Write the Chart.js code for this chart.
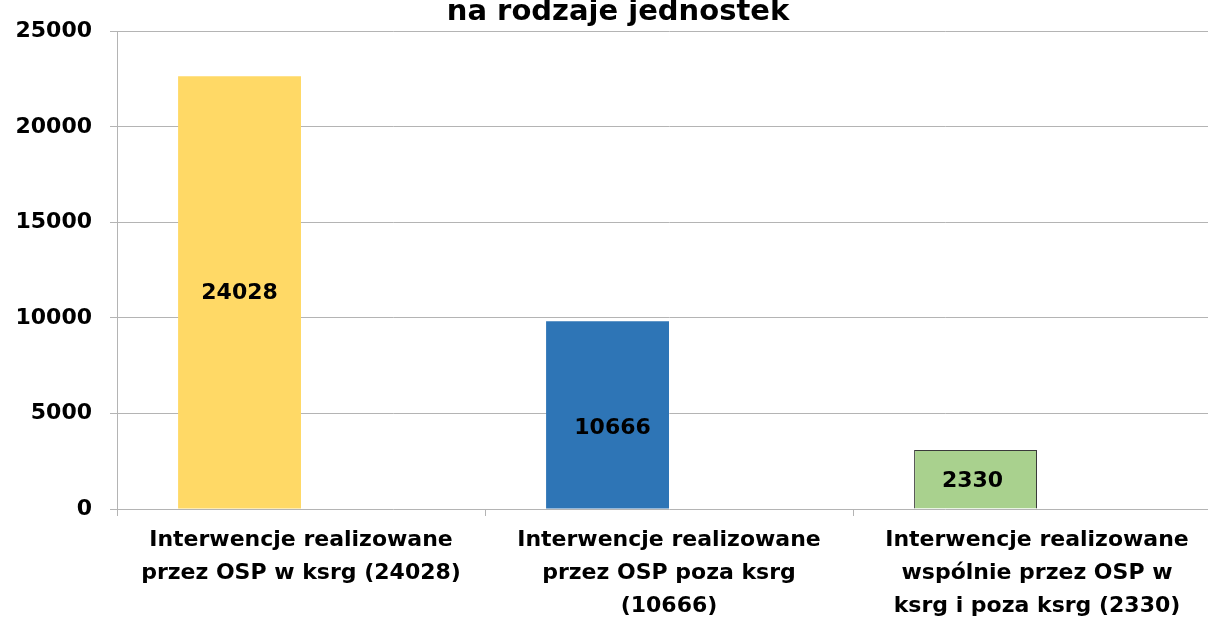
<!DOCTYPE html>
<html>
<head>
<meta charset="utf-8">
<script src="https://cdn.jsdelivr.net/npm/chart.js@4/dist/chart.umd.min.js"></script>
<style>
html,body{margin:0;padding:0;background:#fff;overflow:hidden;width:1208px;height:622px;}
#wrap{position:absolute;left:0;top:-20px;width:1232px;height:650px;}
</style>
</head>
<body>
<div id="wrap"><canvas id="c" width="1232" height="650"></canvas></div>
<script>
const titleText = 'na rodzaje jednostek';
const categories = [
  ['Interwencje realizowane', 'przez OSP w ksrg (24028)'],
  ['Interwencje realizowane', 'przez OSP poza ksrg', '(10666)'],
  ['Interwencje realizowane', 'wspólnie przez OSP w', 'ksrg i poza ksrg (2330)']
];
const barValues = [22650, 9820, 3090];
const barLabels = ['24028', '10666', '2330'];
const emptySeries = [null, null, null];
const yTicks = [0, 5000, 10000, 15000, 20000, 25000];

const barColors = ['#FFD966', '#2E75B6', '#A9D18E'];
const barBorders = ['#FFD966', '#2E75B6', '#3A3A3A'];
const barBorderWidths = [0, 0, 1];
const gridColor = '#B4B4B4';

// manual nudges of the data labels (pixels), as placed in the original chart
const labelNudges = [[0, 1], [5, 13], [-3, 2]];

const valueLabels = {
  id: 'valueLabels',
  afterDatasetsDraw(chart) {
    const ctx = chart.ctx;
    const meta = chart.getDatasetMeta(0);
    ctx.save();
    ctx.font = 'bold 22px "DejaVu Sans"';
    ctx.fillStyle = '#000';
    ctx.textAlign = 'center';
    ctx.textBaseline = 'middle';
    meta.data.forEach((bar, i) => {
      const p = bar.getProps(['x', 'y', 'base'], true);
      const n = labelNudges[i] || [0, 0];
      ctx.fillText(barLabels[i], p.x + n[0], (p.y + p.base) / 2 + n[1]);
    });
    ctx.restore();
  }
};

new Chart(document.getElementById('c'), {
  type: 'bar',
  data: {
    labels: categories,
    datasets: [
      {
        data: barValues,
        backgroundColor: barColors,
        borderColor: barBorders,
        borderWidth: barBorderWidths,
        categoryPercentage: 0.668,
        barPercentage: 1.0
      },
      {
        data: emptySeries,
        backgroundColor: 'rgba(0,0,0,0)',
        categoryPercentage: 0.668,
        barPercentage: 1.0
      }
    ]
  },
  options: {
    responsive: false,
    animation: false,
    devicePixelRatio: 1,
    layout: { padding: { left: 15, right: 11, top: 0, bottom: 0 } },
    plugins: {
      legend: { display: false },
      tooltip: { enabled: false },
      title: {
        display: true,
        text: titleText,
        color: '#000',
        font: { family: 'DejaVu Sans', weight: 'bold', size: 29, lineHeight: 1.2 },
        padding: { top: 15, bottom: 1.5 }
      }
    },
    scales: {
      x: {
        offset: true,
        afterFit(s) { s.height = 121; },
        grid: {
          display: true,
          offset: true,
          drawOnChartArea: false,
          drawTicks: true,
          tickLength: 7,
          color: gridColor
        },
        border: { display: false },
        ticks: {
          color: '#000',
          padding: 8,
          maxRotation: 0,
          autoSkip: false,
          font: { family: 'DejaVu Sans', weight: 'bold', size: 22, lineHeight: 1.5 }
        }
      },
      y: {
        min: 0,
        max: 25000,
        afterBuildTicks(scale) { scale.ticks = yTicks.map(v => ({ value: v })); },
        afterFit(s) { s.width = 102; },
        grid: { color: gridColor, lineWidth: 1, tickLength: 7, drawTicks: true },
        border: { display: true, color: gridColor, width: 1 },
        ticks: {
          color: '#000',
          padding: 18,
          callback: (v) => String(v),
          font: { family: 'DejaVu Sans', weight: 'bold', size: 22 }
        }
      }
    }
  },
  plugins: [valueLabels]
});
</script>
</body>
</html>
